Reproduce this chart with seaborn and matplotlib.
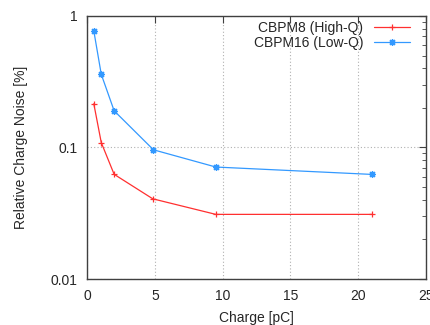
import numpy as np
import pandas as pd
import seaborn as sns
import matplotlib.pyplot as plt
from matplotlib.ticker import FixedLocator, NullFormatter

# values
charge_high = [0.5, 1.05, 2.0, 4.85, 9.5, 21.0]
noise_high = [0.215, 0.109, 0.0625, 0.0407, 0.031, 0.031]
charge_low = [0.5, 1.05, 2.0, 4.9, 9.5, 21.0]
noise_low = [0.77, 0.36, 0.19, 0.096, 0.071, 0.0624]
series_names = ["CBPM8 (High-Q)", "CBPM16 (Low-Q)"]

df = pd.concat([
    pd.DataFrame({"charge": charge_high, "noise": noise_high, "series": series_names[0]}),
    pd.DataFrame({"charge": charge_low, "noise": noise_low, "series": series_names[1]}),
])

sns.set_style("white")
plt.rcParams["font.family"] = ["Liberation Sans", "DejaVu Sans"]

W, H = 431, 325
fig = plt.figure(figsize=(W / 100, H / 100), dpi=100)
ax = fig.add_axes([0.2019, 0.1415, 0.7865, 0.8095])

colors = {series_names[0]: "#ff3030", series_names[1]: "#3399ff"}
markers = {series_names[0]: "+", series_names[1]: (8, 2, 0)}
for name in series_names:
    sub = df[df["series"] == name]
    sns.lineplot(data=sub, x="charge", y="noise", ax=ax, color=colors[name],
                 marker=markers[name], markersize=5, markeredgewidth=0.9,
                 markeredgecolor=colors[name], markerfacecolor=colors[name],
                 linewidth=0.9, label=name)

ax.set_yscale("log")
ax.set_xlim(0, 25)
ax.set_ylim(0.01, 1)
ax.set_xticks([0, 5, 10, 15, 20, 25])
ax.set_yticks([0.01, 0.1, 1])
ax.set_yticklabels(["0.01", "0.1", "1"])
ax.yaxis.set_minor_locator(FixedLocator(
    [m * d for d in (0.01, 0.1) for m in range(2, 10)]))
ax.yaxis.set_minor_formatter(NullFormatter())

# gnuplot-like grid on major ticks only
ax.xaxis.grid(True, which="major", linestyle=(0, (1, 2)), color="#b0b0b0", linewidth=0.8)
ax.yaxis.grid(True, which="major", linestyle=(0, (1, 2)), color="#b0b0b0", linewidth=0.8)
ax.set_axisbelow(True)

for s in ax.spines.values():
    s.set_color("#404040")
    s.set_linewidth(1.0)
ax.tick_params(which="both", direction="in", top=True, right=True,
               labelsize=10, color="#404040", pad=7)
ax.tick_params(which="major", length=5)
ax.tick_params(which="minor", length=3)

ax.set_xlabel("Charge [pC]", fontsize=10, labelpad=6)
ax.set_ylabel("Relative Charge Noise [%]", fontsize=10, labelpad=16)

leg = ax.legend(loc="upper right", frameon=False, markerfirst=False, fontsize=10,
                handlelength=2.6, borderaxespad=0, labelspacing=0.05,
                handletextpad=0.75, borderpad=0,
                bbox_to_anchor=(410 / W, 1 - 21 / H), bbox_transform=fig.transFigure)
for t in leg.get_texts():
    t.set_ha("right")
for h in leg.legend_handles:
    h.set_markersize(5)

fig.savefig("out.png", dpi=100)
